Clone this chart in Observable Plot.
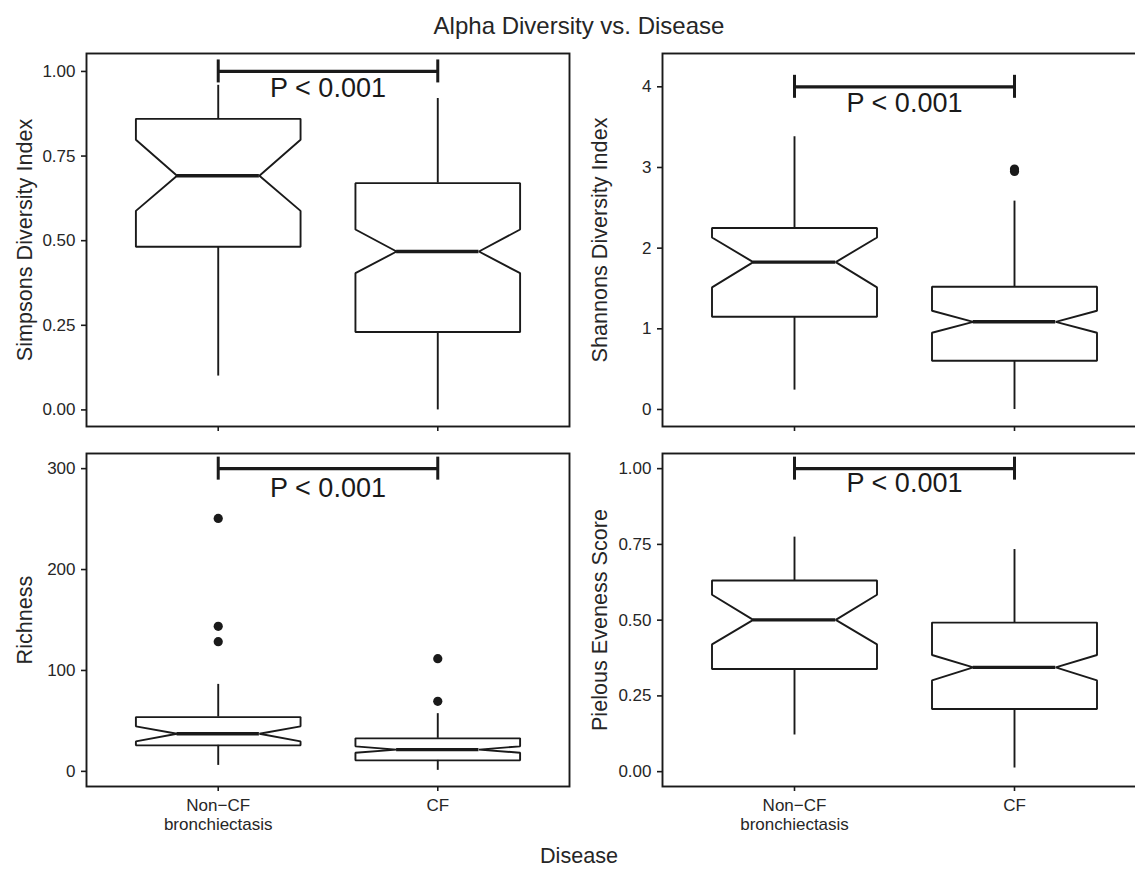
<!DOCTYPE html>
<html><head><meta charset="utf-8">
<script src="https://cdn.jsdelivr.net/npm/d3@7"></script>
<script src="https://cdn.jsdelivr.net/npm/@observablehq/plot@0.6"></script>
<style>
body{margin:0;background:#fff;}
#root{position:relative;width:1135px;height:869px;overflow:hidden;font-family:"Liberation Sans",Arial,Helvetica,sans-serif;color:#262626;background:#fff;}
.panel{position:absolute;}
.t{position:absolute;left:0;width:1158px;text-align:center;white-space:nowrap;}
</style></head><body>
<div id="root">
<div class="t" id="title" style="top:14px;font-size:24px;line-height:24px;">Alpha Diversity vs. Disease</div>
<div class="t" id="xtitle" style="top:848px;font-size:21.6px;line-height:16px;">Disease</div>
</div>
<script>
// ---- data ----
const categories = ["Non\u2212CF\nbronchiectasis", "CF"];
const yLabels = ["Simpsons Diversity Index", "Shannons Diversity Index", "Richness", "Pielous Eveness Score"];
const pLabel = "P < 0.001";

const simpsonsBoxes = [
  {lower: 0.100, q1: 0.482, notchLow: 0.588, median: 0.692, notchHigh: 0.798, q3: 0.860, upper: 0.959},
  {lower: 0.000, q1: 0.230, notchLow: 0.404, median: 0.468, notchHigh: 0.533, q3: 0.670, upper: 0.920}
];
const simpsonsOutliers = [];
const shannonsBoxes = [
  {lower: 0.240, q1: 1.149, notchLow: 1.513, median: 1.827, notchHigh: 2.132, q3: 2.249, upper: 3.381},
  {lower: 0.000, q1: 0.604, notchLow: 0.951, median: 1.087, notchHigh: 1.224, q3: 1.521, upper: 2.583}
];
const shannonsOutliers = [{group: 2, value: 2.98}, {group: 2, value: 2.95}];
const richnessBoxes = [
  {lower: 5.9, q1: 25.8, notchLow: 29.7, median: 37.3, notchHigh: 44.6, q3: 53.8, upper: 86.2},
  {lower: 1.0, q1: 10.9, notchLow: 18.5, median: 21.5, notchHigh: 24.8, q3: 32.7, upper: 57.2}
];
const richnessOutliers = [{group: 1, value: 250.7}, {group: 1, value: 143.7}, {group: 1, value: 128.5}, {group: 2, value: 111.7}, {group: 2, value: 69.4}];
const pielouBoxes = [
  {lower: 0.121, q1: 0.339, notchLow: 0.420, median: 0.501, notchHigh: 0.584, q3: 0.631, upper: 0.774},
  {lower: 0.012, q1: 0.207, notchLow: 0.301, median: 0.344, notchHigh: 0.385, q3: 0.492, upper: 0.733}
];
const pielouOutliers = [];

const simpsonsTicks = [0, 0.25, 0.5, 0.75, 1];
const shannonsTicks = [0, 1, 2, 3, 4];
const richnessTicks = [0, 100, 200, 300];
const pielouTicks = [0, 0.25, 0.5, 0.75, 1];

const yDomains = [[-0.049, 1.053], [-0.211, 4.413], [-15, 315], [-0.049, 1.050]];
const bracketYs = [1, 4, 300, 1];
const pTextYs = [0.95, 3.8, 280, 0.95];

// ---- drawing ----
const INK = "#1a1a1a";
const TXT = "#262626";
const FONT = "'Liberation Sans', Arial, Helvetica, sans-serif";
const HW = 0.375, NW = 0.1875;

function panel({boxes, outliers, yDomain, ticks, tickFormat, label, bracketY, textY, showX, svgW, svgH, mL, mR, mT, mB, labelDx}) {
  const poly = boxes.flatMap((d, i) => {
    const c = i + 1;
    return [[c, d.q3], [c + HW, d.q3], [c + HW, d.notchHigh], [c + NW, d.median], [c + HW, d.notchLow], [c + HW, d.q1],
            [c - HW, d.q1], [c - HW, d.notchLow], [c - NW, d.median], [c - HW, d.notchHigh], [c - HW, d.q3], [c, d.q3]]
      .map(([x, y]) => ({box: i, x, y}));
  });
  const idx = boxes.map((d, i) => i + 1);
  const mid = (1 + categories.length) / 2;
  return Plot.plot({
    width: svgW, height: svgH,
    marginLeft: mL, marginRight: mR, marginTop: mT, marginBottom: mB,
    style: {fontFamily: FONT, color: TXT, background: "transparent", overflow: "visible"},
    x: {type: "linear", domain: [0.4, 2.6]},
    y: {type: "linear", domain: yDomain},
    marks: [
      Plot.frame({stroke: INK, strokeWidth: 1.9}),
      Plot.axisY({ticks, tickFormat, tickSize: 5, tickPadding: 6, fontSize: 17, label: null, stroke: INK, strokeWidth: 1.6, fill: TXT}),
      Plot.axisX({ticks: idx, tickFormat: showX ? (v) => categories[v - 1] : () => "", tickSize: 5, tickPadding: 6, fontSize: 17, lineHeight: 1.135, label: null, stroke: INK, strokeWidth: 1.6, fill: TXT}),
      Plot.text([label], {text: (d) => d, frameAnchor: "left", rotate: -90, dx: labelDx, fontSize: 21.6, textAnchor: "middle", lineAnchor: "bottom", fill: TXT}),
      Plot.ruleX(boxes, {x: (d, i) => i + 1, y1: "q3", y2: "upper", stroke: INK, strokeWidth: 1.9}),
      Plot.ruleX(boxes, {x: (d, i) => i + 1, y1: "q1", y2: "lower", stroke: INK, strokeWidth: 1.9}),
      Plot.line(poly, {x: "x", y: "y", z: "box", stroke: INK, strokeWidth: 1.9, strokeLinejoin: "miter", fill: "none"}),
      Plot.ruleY(boxes, {y: "median", x1: (d, i) => i + 1 - NW, x2: (d, i) => i + 1 + NW, stroke: INK, strokeWidth: 3.4}),
      Plot.dot(outliers, {x: "group", y: "value", r: 4.6, fill: INK, stroke: "none"}),
      Plot.ruleY([bracketY], {y: (d) => d, x1: 1, x2: categories.length, stroke: INK, strokeWidth: 3.3}),
      Plot.ruleX(idx, {x: (d) => d, y1: () => bracketY, y2: () => bracketY, insetTop: -11.5, insetBottom: -11.5, stroke: INK, strokeWidth: 3}),
      Plot.text([pLabel], {text: (d) => d, x: () => mid, y: () => textY, fontSize: 27, lineAnchor: "middle", textAnchor: "middle", fill: INK})
    ]
  });
}

const fmt2 = d3.format(".2f");
const fmt0 = d3.format("d");
const specs = [
  {boxes: simpsonsBoxes, outliers: simpsonsOutliers, ticks: simpsonsTicks, tickFormat: fmt2, left: 0, top: 0, showX: false},
  {boxes: shannonsBoxes, outliers: shannonsOutliers, ticks: shannonsTicks, tickFormat: fmt0, left: 575, top: 0, showX: false},
  {boxes: richnessBoxes, outliers: richnessOutliers, ticks: richnessTicks, tickFormat: fmt0, left: 0, top: 440, showX: true},
  {boxes: pielouBoxes, outliers: pielouOutliers, ticks: pielouTicks, tickFormat: fmt2, left: 575, top: 440, showX: true}
];
const root = document.getElementById("root");
specs.forEach((s, k) => {
  const isTop = s.top === 0;
  const isLeft = s.left === 0;
  const chart = panel({
    boxes: s.boxes, outliers: s.outliers, yDomain: yDomains[k], ticks: s.ticks, tickFormat: s.tickFormat,
    label: yLabels[k], bracketY: bracketYs[k], textY: pTextYs[k], showX: s.showX,
    svgW: 575, svgH: isTop ? 440 : 400,
    mL: isLeft ? 86 : 87, mR: isLeft ? 6 : 4,
    mT: isTop ? 53 : 13, mB: isTop ? 14 : 54,
    labelDx: isLeft ? -55 : -56
  });
  chart.classList.add("panel");
  chart.style.left = s.left + "px";
  chart.style.top = s.top + "px";
  chart.style.position = "absolute";
  root.appendChild(chart);
});
</script>
</body></html>
